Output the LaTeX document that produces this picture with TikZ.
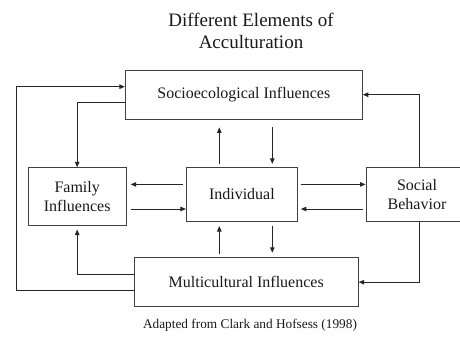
\documentclass[tikz,border=0pt]{standalone}
\usepackage{fontspec}
\setmainfont{Liberation Serif}
\usetikzlibrary{arrows.meta,calc}
\begin{document}
\begin{tikzpicture}[x=1pt,y=-1pt,
  box/.style={draw=black!75, line width=0.9pt, inner sep=0pt, align=center,
    font=\fontsize{16}{19.5}\selectfont, text=black!90},
  arr/.style={draw=black!85, line width=1pt, -{Triangle[length=5.5pt,width=4.5pt]}},
  ln/.style={draw=black!70, line width=0.8pt}]
\useasboundingbox (0,0) rectangle (460,338);
\node[align=center, font=\fontsize{19}{22}\selectfont, text=black!90] (title) at (251,31) {Different Elements of\\Acculturation};
\node[box, minimum width=237pt, minimum height=49.5pt] (socio) at (243.8,94.7) {Socioecological Influences};
\node[box, minimum width=98pt, minimum height=57.3pt] (family) at (77.2,196.4) {Family\\Influences};
\node[box, minimum width=111pt, minimum height=53.3pt] (indiv) at (241.9,194.4) {Individual};
\node[box, minimum width=102pt, minimum height=53.3pt] (social) at (417,194.4) {Social\\Behavior};
\node[box, minimum width=224pt, minimum height=49pt] (multi) at (246.2,282.2) {Multicultural Influences};
\node[font=\fontsize{13.3}{16}\selectfont, text=black!90] (cap) at (250,325) {Adapted from Clark and Hofsess (1998)};
\coordinate (loopL) at (16,86.7);
% outer loop
\draw[arr] ([yshift=-8pt]multi.west) -| (loopL) -- (loopL -| socio.west);
% socio -> family
\draw[arr] ([yshift=-8pt]socio.west) -| (family.north);
% multi -> family
\draw[arr, shorten >=4pt] ([yshift=8pt]multi.west) -| (family.south);
% vertical arrows between socio and indiv
\coordinate (u1) at ([xshift=-22.6pt]indiv.north);
\coordinate (d1) at ([xshift=30.4pt]indiv.north);
\draw[arr, shorten <=3.4pt, shorten >=7.4pt] (u1) -- (u1 |- socio.south);
\draw[arr, shorten <=7.4pt, shorten >=3.4pt] (d1 |- socio.south) -- (d1);
% vertical arrows between indiv and multi
\coordinate (u2) at ([xshift=-22.6pt]indiv.south);
\coordinate (d2) at ([xshift=30.4pt]indiv.south);
\draw[arr, shorten <=4pt, shorten >=4.5pt] (d2) -- (d2 |- multi.north);
\draw[arr, shorten <=3.7pt, shorten >=4.5pt] (u2 |- multi.north) -- (u2);
% horizontal arrows family <-> indiv
\coordinate (h1) at ([yshift=10pt]indiv.west);
\coordinate (h2) at ([yshift=-14.6pt]indiv.west);
\draw[arr, shorten <=3pt, shorten >=4pt] (h1) -- (h1 -| family.east);
\draw[arr, shorten <=4pt] (h2 -| family.east) -- (h2);
% horizontal arrows indiv <-> social
\coordinate (h3) at ([yshift=10pt]indiv.east);
\coordinate (h4) at ([yshift=-14.6pt]indiv.east);
\draw[arr, shorten <=3.4pt] (h3) -- (h3 -| social.west);
\draw[arr, shorten <=3pt, shorten >=3pt] (h4 -| social.west) -- (h4);
% social -> socio, social -> multi
\draw[arr] ([xshift=2pt]social.north) |- (socio.east);
\draw[arr] ([xshift=2pt]social.south) |- (multi.east);
\end{tikzpicture}
\end{document}
